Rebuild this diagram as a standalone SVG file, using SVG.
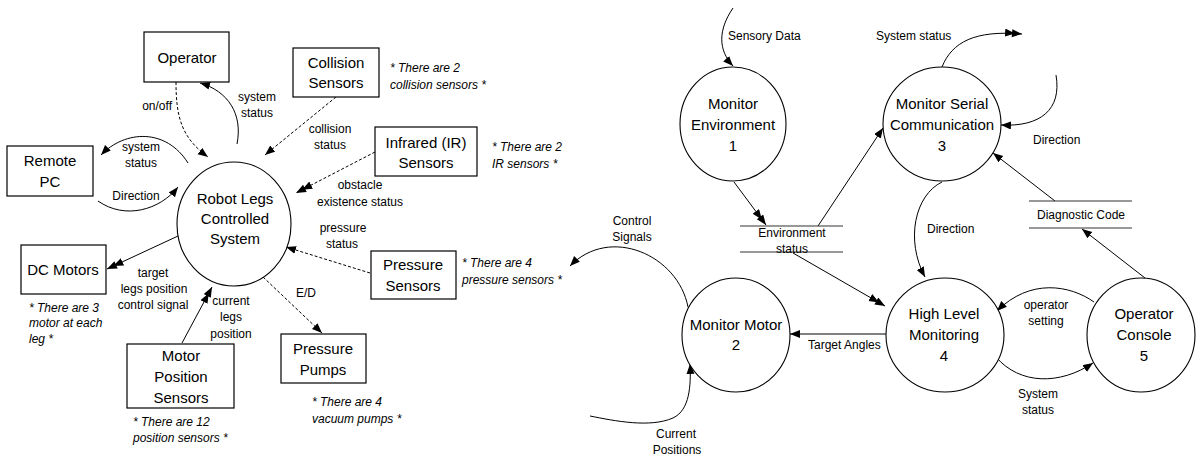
<svg xmlns="http://www.w3.org/2000/svg" width="1196" height="457" viewBox="0 0 1196 457">
  <style>
    text { font-family: "Liberation Sans", Arial, sans-serif; fill: #000; }
    .lbl15 { font-size: 15px; text-anchor: middle; }
    .lbl12 { font-size: 12px; }
    .c { text-anchor: middle; }
    .note { font-size: 12px; font-style: italic; }
    .box { fill: #fff; stroke: #000; stroke-width: 1.2; }
    .proc { fill: #fff; stroke: #000; stroke-width: 1.1; }
    .store { stroke: #333; stroke-width: 1.2; }
    .flow { fill: none; stroke: #000; stroke-width: 1; }
    .dash { stroke-dasharray: 3 2; }
  </style>
  <defs>
    <marker id="arrow" markerUnits="userSpaceOnUse" markerWidth="12" markerHeight="10" refX="10" refY="4" orient="auto">
      <path d="M0,0 L10,4 L0,8 z" fill="#000"/>
    </marker>
    <marker id="arrow2" markerUnits="userSpaceOnUse" markerWidth="20" markerHeight="10" refX="17" refY="4" orient="auto">
      <path d="M0,0 L10,4 L0,8 z M7,0 L17,4 L7,8 z" fill="#000"/>
    </marker>
  </defs>

  <!-- ===== Context diagram ===== -->
  <g id="connectors-context">
    <path class="flow dash" d="M176,82 C176,118 182,138 208,157" marker-end="url(#arrow)"/>
    <path class="flow" d="M237,144 C243,114 228,91 200,83" marker-end="url(#arrow)"/>
    <path class="flow" d="M188,163 C166,128 125,130 101,155" marker-end="url(#arrow)"/>
    <path class="flow" d="M98,201 C125,220 160,210 178,187" marker-end="url(#arrow)"/>
    <path class="flow dash" d="M336,97 L265,155" marker-end="url(#arrow)"/>
    <path class="flow dash" d="M375,152 L296,193" marker-end="url(#arrow2)"/>
    <path class="flow dash" d="M370,273 L286,247" marker-end="url(#arrow)"/>
    <path class="flow dash" d="M263,277 L322,333" marker-end="url(#arrow)"/>
    <path class="flow" d="M178,236 L107,269" marker-end="url(#arrow2)"/>
    <path class="flow" d="M182,343 L212,287" marker-end="url(#arrow2)"/>

    <text class="lbl12" x="172" y="109.5" text-anchor="end">on/off</text>
    <text class="lbl12 c" x="257" y="100.5">system</text>
    <text class="lbl12 c" x="257" y="116.5">status</text>
    <text class="lbl12 c" x="141" y="150.5">system</text>
    <text class="lbl12 c" x="141" y="166.5">status</text>
    <text class="lbl12 c" x="136" y="199.5">Direction</text>
    <text class="lbl12 c" x="330" y="132.5">collision</text>
    <text class="lbl12 c" x="330" y="148.5">status</text>
    <text class="lbl12 c" x="360" y="188.5">obstacle</text>
    <text class="lbl12 c" x="360" y="205.5">existence status</text>
    <text class="lbl12 c" x="343" y="231.5">pressure</text>
    <text class="lbl12 c" x="342" y="247.5">status</text>
    <text class="lbl12 c" x="306" y="296.5">E/D</text>
    <text class="lbl12 c" x="153" y="276.5">target</text>
    <text class="lbl12 c" x="154" y="292.5">legs position</text>
    <text class="lbl12 c" x="153" y="308.5">control signal</text>
    <text class="lbl12 c" x="231" y="304.5">current</text>
    <text class="lbl12 c" x="231" y="321">legs</text>
    <text class="lbl12 c" x="231" y="337.5">position</text>
  </g>

  <g id="robot-legs-system">
    <ellipse class="proc" cx="234" cy="224" rx="57" ry="62"/>
    <text class="lbl15" x="235" y="203.5">Robot Legs</text>
    <text class="lbl15" x="235" y="223.5">Controlled</text>
    <text class="lbl15" x="235" y="243.5">System</text>
  </g>
  <g id="operator">
    <rect class="box" x="144" y="32" width="85" height="50"/>
    <text class="lbl15" x="187" y="63">Operator</text>
  </g>
  <g id="remote-pc">
    <rect class="box" x="7" y="146" width="86" height="50"/>
    <text class="lbl15" x="50" y="165.5">Remote</text>
    <text class="lbl15" x="50" y="186.5">PC</text>
  </g>
  <g id="collision-sensors">
    <rect class="box" x="293" y="48" width="86" height="49"/>
    <text class="lbl15" x="336" y="67.5">Collision</text>
    <text class="lbl15" x="336" y="88">Sensors</text>
    <text class="note" x="390" y="72">* There are 2</text>
    <text class="note" x="390" y="88.5">collision sensors *</text>
  </g>
  <g id="ir-sensors">
    <rect class="box" x="375" y="127" width="102" height="49"/>
    <text class="lbl15" x="426" y="147.5">Infrared (IR)</text>
    <text class="lbl15" x="426" y="167.5">Sensors</text>
    <text class="note" x="492" y="151">* There are 2</text>
    <text class="note" x="492" y="167.5">IR sensors *</text>
  </g>
  <g id="dc-motors">
    <rect class="box" x="21" y="245" width="85" height="49"/>
    <text class="lbl15" x="63" y="274.5">DC Motors</text>
    <text class="note" x="29" y="311.5">* There are 3</text>
    <text class="note" x="29" y="327">motor at each</text>
    <text class="note" x="29" y="343">leg *</text>
  </g>
  <g id="motor-position-sensors">
    <rect class="box" x="127" y="344" width="107" height="64"/>
    <text class="lbl15" x="181" y="360.5">Motor</text>
    <text class="lbl15" x="181" y="381.5">Position</text>
    <text class="lbl15" x="181" y="402.5">Sensors</text>
    <text class="note" x="133" y="425.5">* There are 12</text>
    <text class="note" x="133" y="442">position sensors *</text>
  </g>
  <g id="pressure-sensors">
    <rect class="box" x="371" y="251" width="85" height="48"/>
    <text class="lbl15" x="413" y="269.5">Pressure</text>
    <text class="lbl15" x="413" y="290.5">Sensors</text>
    <text class="note" x="462" y="266.5">* There are 4</text>
    <text class="note" x="462" y="283.5">pressure sensors *</text>
  </g>
  <g id="pressure-pumps">
    <rect class="box" x="281" y="334" width="85" height="49"/>
    <text class="lbl15" x="323" y="353.5">Pressure</text>
    <text class="lbl15" x="323" y="374.5">Pumps</text>
    <text class="note" x="312" y="405.5">* There are 4</text>
    <text class="note" x="312" y="422.5">vacuum pumps *</text>
  </g>

  <!-- ===== Level-1 data flow diagram ===== -->
  <g id="connectors-level1">
    <path class="flow" d="M733,8 C718,30 718,50 733,66" marker-end="url(#arrow)"/>
    <path class="flow" d="M734,182 L766,225" marker-end="url(#arrow2)"/>
    <path class="flow" d="M818,226 L883,128" marker-end="url(#arrow)"/>
    <path class="flow" d="M942,67 C952,42 975,30 1022,34" marker-end="url(#arrow2)"/>
    <path class="flow" d="M1056,75 C1062,110 1040,127 1001,125" marker-end="url(#arrow)"/>
    <path class="flow" d="M1055,201 L993,153" marker-end="url(#arrow)"/>
    <path class="flow" d="M1145,278 L1082,229" marker-end="url(#arrow)"/>
    <path class="flow" d="M942,182 C915,195 905,240 925,277" marker-end="url(#arrow)"/>
    <path class="flow" d="M793,253 L885,306" marker-end="url(#arrow2)"/>
    <path class="flow" d="M886,334 L790,334" marker-end="url(#arrow)"/>
    <path class="flow" d="M688,307 C678,255 610,225 570,266" marker-end="url(#arrow)"/>
    <path class="flow" d="M590,416 C615,421 650,428 673,418 C690,410 691,385 690,364" marker-end="url(#arrow)"/>
    <path class="flow" d="M1094,302 C1070,285 1030,278 997,311" marker-end="url(#arrow)"/>
    <path class="flow" d="M996,357 C1020,385 1060,385 1093,363" marker-end="url(#arrow)"/>

    <text class="lbl12" x="728" y="39.5">Sensory Data</text>
    <text class="lbl12" x="876" y="39.5">System status</text>
    <text class="lbl12" x="1033" y="143.5">Direction</text>
    <text class="lbl12" x="927" y="232.5">Direction</text>
    <text class="lbl12 c" x="632" y="224.5">Control</text>
    <text class="lbl12 c" x="632" y="240.5">Signals</text>
    <text class="lbl12" x="808" y="348.5">Target Angles</text>
    <text class="lbl12 c" x="676" y="437.5">Current</text>
    <text class="lbl12 c" x="677" y="453.5">Positions</text>
    <text class="lbl12 c" x="1046" y="308.5">operator</text>
    <text class="lbl12 c" x="1046" y="324.5">setting</text>
    <text class="lbl12 c" x="1038" y="397.5">System</text>
    <text class="lbl12 c" x="1038" y="413.5">status</text>
  </g>

  <g id="environment-status-store">
    <line class="store" x1="740" y1="226" x2="843" y2="226"/>
    <line class="store" x1="740" y1="252" x2="843" y2="252"/>
    <text class="lbl12 c" x="792" y="236.5">Environment</text>
    <text class="lbl12 c" x="792" y="252.5">status</text>
  </g>
  <g id="diagnostic-code-store">
    <line class="store" x1="1029" y1="201" x2="1132" y2="201"/>
    <line class="store" x1="1029" y1="228" x2="1132" y2="228"/>
    <text class="lbl12 c" x="1081" y="218.5">Diagnostic Code</text>
  </g>

  <g id="monitor-environment">
    <ellipse class="proc" cx="733" cy="124" rx="53" ry="57"/>
    <text class="lbl15" x="733" y="108.5">Monitor</text>
    <text class="lbl15" x="733" y="129.5">Environment</text>
    <text class="lbl15" x="733" y="151">1</text>
  </g>
  <g id="monitor-serial-communication">
    <ellipse class="proc" cx="942" cy="124" rx="59" ry="57"/>
    <text class="lbl15" x="942" y="109">Monitor Serial</text>
    <text class="lbl15" x="942" y="130">Communication</text>
    <text class="lbl15" x="942" y="151">3</text>
  </g>
  <g id="monitor-motor">
    <ellipse class="proc" cx="736" cy="335" rx="54" ry="57"/>
    <text class="lbl15" x="736" y="329.5">Monitor Motor</text>
    <text class="lbl15" x="736" y="350">2</text>
  </g>
  <g id="high-level-monitoring">
    <ellipse class="proc" cx="945" cy="335" rx="59" ry="57"/>
    <text class="lbl15" x="944" y="318.5">High Level</text>
    <text class="lbl15" x="944" y="339.5">Monitoring</text>
    <text class="lbl15" x="944" y="360.5">4</text>
  </g>
  <g id="operator-console">
    <ellipse class="proc" cx="1141" cy="335" rx="54" ry="57"/>
    <text class="lbl15" x="1144" y="318.5">Operator</text>
    <text class="lbl15" x="1144" y="339.5">Console</text>
    <text class="lbl15" x="1144" y="360.5">5</text>
  </g>
</svg>
